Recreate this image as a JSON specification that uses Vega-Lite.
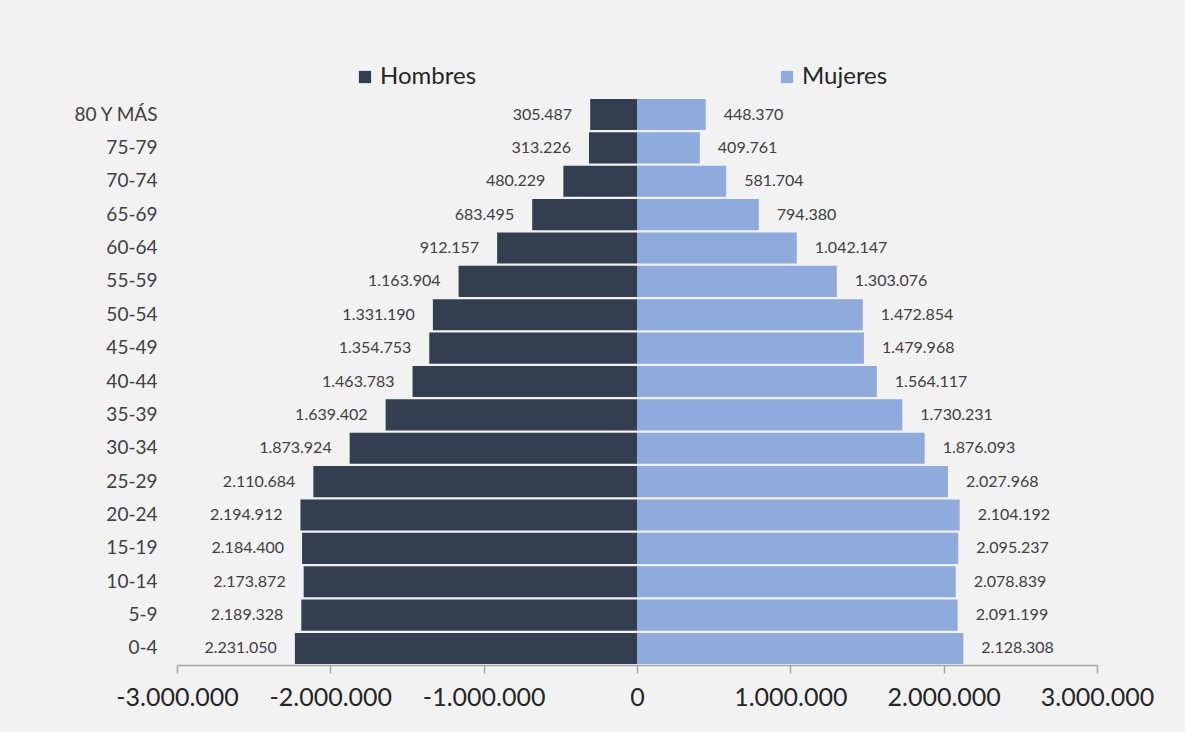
{
  "$schema": "https://vega.github.io/schema/vega-lite/v6.json",
  "autosize": {"type": "none"},
  "width": 920,
  "height": 567,
  "padding": {"left": 177, "top": 98, "right": 88, "bottom": 67},
  "background": "#f2f2f2",
  "data": {
    "values": [
      {"edad": "80 Y MÁS", "sexo": "Hombres", "x": -305487, "pop": 305487},
      {"edad": "75-79", "sexo": "Hombres", "x": -313226, "pop": 313226},
      {"edad": "70-74", "sexo": "Hombres", "x": -480229, "pop": 480229},
      {"edad": "65-69", "sexo": "Hombres", "x": -683495, "pop": 683495},
      {"edad": "60-64", "sexo": "Hombres", "x": -912157, "pop": 912157},
      {"edad": "55-59", "sexo": "Hombres", "x": -1163904, "pop": 1163904},
      {"edad": "50-54", "sexo": "Hombres", "x": -1331190, "pop": 1331190},
      {"edad": "45-49", "sexo": "Hombres", "x": -1354753, "pop": 1354753},
      {"edad": "40-44", "sexo": "Hombres", "x": -1463783, "pop": 1463783},
      {"edad": "35-39", "sexo": "Hombres", "x": -1639402, "pop": 1639402},
      {"edad": "30-34", "sexo": "Hombres", "x": -1873924, "pop": 1873924},
      {"edad": "25-29", "sexo": "Hombres", "x": -2110684, "pop": 2110684},
      {"edad": "20-24", "sexo": "Hombres", "x": -2194912, "pop": 2194912},
      {"edad": "15-19", "sexo": "Hombres", "x": -2184400, "pop": 2184400},
      {"edad": "10-14", "sexo": "Hombres", "x": -2173872, "pop": 2173872},
      {"edad": "5-9", "sexo": "Hombres", "x": -2189328, "pop": 2189328},
      {"edad": "0-4", "sexo": "Hombres", "x": -2231050, "pop": 2231050},
      {"edad": "80 Y MÁS", "sexo": "Mujeres", "x": 448370, "pop": 448370},
      {"edad": "75-79", "sexo": "Mujeres", "x": 409761, "pop": 409761},
      {"edad": "70-74", "sexo": "Mujeres", "x": 581704, "pop": 581704},
      {"edad": "65-69", "sexo": "Mujeres", "x": 794380, "pop": 794380},
      {"edad": "60-64", "sexo": "Mujeres", "x": 1042147, "pop": 1042147},
      {"edad": "55-59", "sexo": "Mujeres", "x": 1303076, "pop": 1303076},
      {"edad": "50-54", "sexo": "Mujeres", "x": 1472854, "pop": 1472854},
      {"edad": "45-49", "sexo": "Mujeres", "x": 1479968, "pop": 1479968},
      {"edad": "40-44", "sexo": "Mujeres", "x": 1564117, "pop": 1564117},
      {"edad": "35-39", "sexo": "Mujeres", "x": 1730231, "pop": 1730231},
      {"edad": "30-34", "sexo": "Mujeres", "x": 1876093, "pop": 1876093},
      {"edad": "25-29", "sexo": "Mujeres", "x": 2027968, "pop": 2027968},
      {"edad": "20-24", "sexo": "Mujeres", "x": 2104192, "pop": 2104192},
      {"edad": "15-19", "sexo": "Mujeres", "x": 2095237, "pop": 2095237},
      {"edad": "10-14", "sexo": "Mujeres", "x": 2078839, "pop": 2078839},
      {"edad": "5-9", "sexo": "Mujeres", "x": 2091199, "pop": 2091199},
      {"edad": "0-4", "sexo": "Mujeres", "x": 2128308, "pop": 2128308}
    ]
  },
  "encoding": {
    "y": {
      "field": "edad",
      "type": "nominal",
      "sort": ["80 Y MÁS", "75-79", "70-74", "65-69", "60-64", "55-59", "50-54", "45-49", "40-44", "35-39", "30-34", "25-29", "20-24", "15-19", "10-14", "5-9", "0-4"],
      "scale": {"paddingInner": 0.07, "paddingOuter": 0.03},
      "axis": {
        "title": null,
        "domain": false,
        "ticks": false,
        "labelPadding": 20,
        "labelFont": "Lato",
        "labelFontSize": 19,
        "labelColor": "#404040"
      }
    }
  },
  "layer": [
    {
      "mark": {"type": "bar"},
      "encoding": {
        "x": {
          "field": "x",
          "type": "quantitative",
          "scale": {"domain": [-3000000, 3000000], "nice": false, "zero": false},
          "axis": {
            "title": null,
            "values": [-3000000, -2000000, -1000000, 0, 1000000, 2000000, 3000000],
            "format": ",d",
            "grid": false,
            "domainColor": "#a6a6a6",
            "domainWidth": 1.5,
            "tickColor": "#a6a6a6",
            "tickWidth": 1.5,
            "tickSize": 8,
            "labelPadding": 12,
            "labelFont": "Lato",
            "labelFontSize": 25,
            "labelColor": "#262626",
            "labelFlush": false,
            "labelOverlap": false
          }
        },
        "color": {
          "field": "sexo",
          "type": "nominal",
          "scale": {"domain": ["Hombres", "Mujeres"], "range": ["#333f50", "#8faadc"]},
          "legend": {
            "title": null,
            "orient": "none",
            "direction": "horizontal",
            "legendX": 176,
            "legendY": -33,
            "padding": 0,
            "symbolType": "square",
            "symbolSize": 150,
            "symbolStrokeWidth": 0,
            "symbolOpacity": 1,
            "labelFont": "Lato",
            "labelFontSize": 24,
            "labelColor": "#262626",
            "labelOffset": 3,
            "columnPadding": 298
          }
        }
      }
    },
    {
      "mark": {"type": "rule", "color": "#a6a6a6", "strokeWidth": 1.5},
      "encoding": {"x": {"datum": 0}}
    },
    {
      "transform": [{"filter": "datum.sexo === 'Hombres'"}],
      "mark": {"type": "text", "align": "right", "baseline": "middle", "dx": -18, "font": "Lato", "fontSize": 16, "color": "#404040"},
      "encoding": {
        "x": {"field": "x", "type": "quantitative"},
        "text": {"field": "pop", "type": "quantitative", "format": ",d"}
      }
    },
    {
      "transform": [{"filter": "datum.sexo === 'Mujeres'"}],
      "mark": {"type": "text", "align": "left", "baseline": "middle", "dx": 18, "font": "Lato", "fontSize": 16, "color": "#404040"},
      "encoding": {
        "x": {"field": "x", "type": "quantitative"},
        "text": {"field": "pop", "type": "quantitative", "format": ",d"}
      }
    }
  ],
  "config": {
    "view": {"stroke": null},
    "locale": {
      "number": {"decimal": ",", "thousands": ".", "grouping": [3], "currency": ["", " €"], "minus": "-"}
    }
  }
}
